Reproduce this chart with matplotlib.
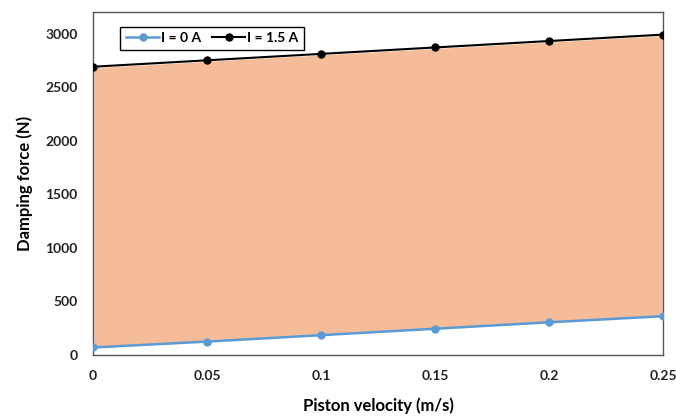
import matplotlib
matplotlib.use("Agg")
import matplotlib.pyplot as plt

# data
velocity = [0, 0.05, 0.1, 0.15, 0.2, 0.25]
force_0A = [70, 125, 185, 245, 305, 362]
force_15A = [2690, 2750, 2810, 2870, 2930, 2990]
xtick_labels = ["0", "0.05", "0.1", "0.15", "0.2", "0.25"]

plt.rcParams['font.family'] = ['Lato', 'DejaVu Sans']

fig = plt.figure(figsize=(6.76, 4.17), dpi=100)
ax = fig.add_axes([0.1376, 0.1487, 0.8434, 0.8223])

ax.fill_between(velocity, force_0A, force_15A, facecolor="#F4BC98",
                edgecolor="white", linewidth=1.5, zorder=1)
ax.plot(velocity, force_0A, color="#5B9BD5", marker="o", markersize=5,
        linewidth=1.8, label="I = 0 A", zorder=3)
ax.plot(velocity, force_15A, color="black", marker="o", markersize=5,
        linewidth=1.5, label="I = 1.5 A", zorder=3)

ax.set_xlim(0, 0.25)
ax.set_ylim(0, 3200)
ax.set_xticks(velocity)
ax.set_xticklabels(xtick_labels)
ax.set_yticks(range(0, 3001, 500))
ax.tick_params(length=0, pad=11, labelsize=10)
for lbl in ax.get_xticklabels() + ax.get_yticklabels():
    lbl.set_fontweight("bold")
    lbl.set_color("#222222")

for s in ax.spines.values():
    s.set_color("#555555")
    s.set_linewidth(1)

ax.set_xlabel("Piston velocity (m/s)", fontsize=12, fontweight="bold", labelpad=11)
ax.set_ylabel("Damping force (N)", fontsize=12, fontweight="bold", labelpad=9)

leg = ax.legend(loc="upper left", bbox_to_anchor=(0.036, 0.978), ncol=2,
                fancybox=False, edgecolor="black", framealpha=1,
                handlelength=2.4, columnspacing=0.8, handletextpad=0.1,
                prop={"weight": "bold", "size": 10})
leg.get_frame().set_linewidth(1)

fig.savefig("out.png", dpi=100)
